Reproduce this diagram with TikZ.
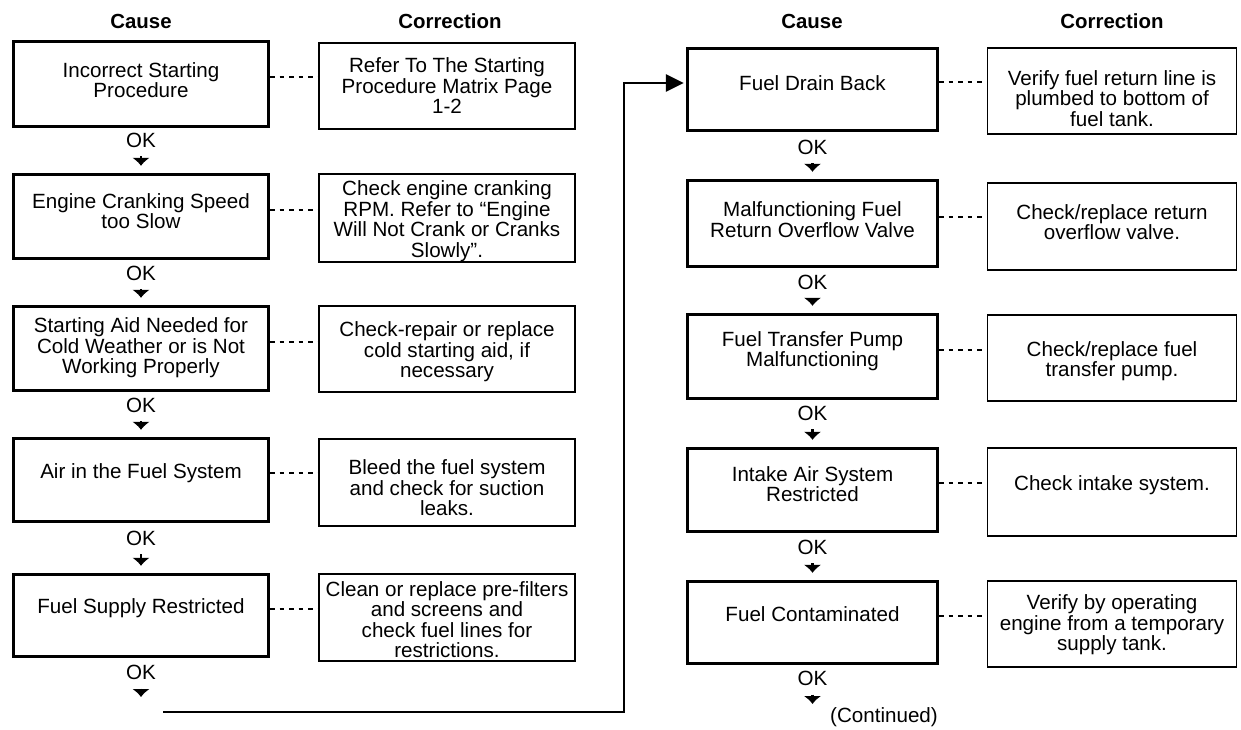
\documentclass[tikz,border=0pt]{standalone}
\usepackage{fontspec}
\setmainfont{Liberation Sans}
\usetikzlibrary{arrows.meta}
\begin{document}
\begin{tikzpicture}[x=1pt,y=-1pt,
  font=\fontsize{20.6}{20.5}\selectfont,
  cause/.style={draw, line width=3.4pt, inner sep=0pt, minimum width=255pt},
  causeR/.style={cause, minimum width=250pt},
  corr/.style={draw, line width=1.9pt, inner sep=0pt, minimum width=256pt},
  corrR/.style={corr, minimum width=249pt},
  txt/.style={align=center, inner sep=0pt},
  hdr/.style={inner sep=0pt, font=\fontsize{20.4}{20}\selectfont\bfseries},
  oklbl/.style={inner sep=0pt},
  dotline/.style={line width=2pt, dash pattern=on 4.5pt off 5pt},
  okarrow/.style={line width=2.4pt, -{Latex[length=8pt,width=18pt]}, shorten <=9pt, shorten >=7pt},
  mainline/.style={line width=2.6pt, -{Triangle[length=18pt,width=17pt]}, shorten >=2pt}
]
\useasboundingbox (0,0) rectangle (1241,730);

% headers
\node[hdr] (h1) at (141,21) {Cause};
\node[hdr] (h2) at (450,21) {Correction};
\node[hdr] (h3) at (812,21) {Cause};
\node[hdr] (h4) at (1112,21) {Correction};

% left cause boxes
\node[cause, minimum height=85pt] (L1) at (141,84) {};
\node[cause, minimum height=84pt] (L2) at (141,216.5) {};
\node[cause, minimum height=84pt] (L3) at (141,348.5) {};
\node[cause, minimum height=83pt] (L4) at (141,480) {};
\node[cause, minimum height=82pt] (L5) at (141,615.5) {};
\node[txt] (L1t) at (141,80) {Incorrect Starting\\Procedure};
\node[txt] (L2t) at (141,211) {Engine Cranking Speed\\too Slow};
\node[txt] (L3t) at (141,348) {Starting Aid Needed for\\Cold Weather or is Not\\Working Properly};
\node[txt] (L4t) at (141,473) {Air in the Fuel System};
\node[txt] (L5t) at (141,608) {Fuel Supply Restricted};

% left correction boxes
\node[corr, minimum height=86pt] (C1) at (447,86) {};
\node[corr, minimum height=88pt] (C2) at (447,218) {};
\node[corr, minimum height=86pt] (C3) at (447,349) {};
\node[corr, minimum height=87pt] (C4) at (447,482.5) {};
\node[corr, minimum height=87pt] (C5) at (447,617.5) {};
\node[txt] (C1t) at (447,86) {Refer To The Starting\\Procedure Matrix Page\\1-2};
\node[txt] (C2t) at (447,221) {Check engine cranking\\RPM. Refer to ``Engine\\Will Not Crank or Cranks\\Slowly''.};
\node[txt] (C3t) at (447,352) {Check-repair or replace\\cold starting aid, if\\necessary};
\node[txt] (C4t) at (447,488) {Bleed the fuel system\\and check for suction\\leaks.};
\node[txt] (C5t) at (447,619.5) {Clean or replace pre-filters\\and screens and\\check fuel lines for\\restrictions.};

% right cause boxes
\node[causeR, minimum height=82pt] (R1) at (812.5,89.5) {};
\node[causeR, minimum height=86pt] (R2) at (812.5,223.5) {};
\node[causeR, minimum height=84pt] (R3) at (812.5,356.5) {};
\node[causeR, minimum height=83pt] (R4) at (812.5,490) {};
\node[causeR, minimum height=82pt] (R5) at (812.5,622.5) {};
\node[txt] (R1t) at (812.5,83) {Fuel Drain Back};
\node[txt] (R2t) at (812.5,219.5) {Malfunctioning Fuel\\Return Overflow Valve};
\node[txt] (R3t) at (812.5,351) {Fuel Transfer Pump\\Malfunctioning};
\node[txt] (R4t) at (812.5,484) {Intake Air System\\Restricted};
\node[txt] (R5t) at (812.5,614) {Fuel Contaminated};

% right correction boxes
\node[corrR, minimum height=86pt] (D1) at (1112,91) {};
\node[corrR, minimum height=87pt] (D2) at (1112,226.5) {};
\node[corrR, minimum height=86pt] (D3) at (1112,358) {};
\node[corrR, minimum height=88pt] (D4) at (1112,492) {};
\node[corrR, minimum height=86pt] (D5) at (1112,624) {};
\node[txt] (D1t) at (1112,98.5) {Verify fuel return line is\\plumbed to bottom of\\fuel tank.};
\node[txt] (D2t) at (1112,222) {Check/replace return\\overflow valve.};
\node[txt] (D3t) at (1112,361) {Check/replace fuel\\transfer pump.};
\node[txt] (D4t) at (1112,485) {Check intake system.};
\node[txt] (D5t) at (1112,625) {Verify by operating\\engine from a temporary\\supply tank.};

% dotted connectors
\foreach \a/\b in {L1/C1,L2/C2,L3/C3,L4/C4,L5/C5,R1/D1,R2/D2,R3/D3,R4/D4,R5/D5}
  \draw[dotline] ([yshift=7pt]\a.east) -- ([yshift=7pt]\a.east -| \b.west);

% OK labels
\node[oklbl] (okL1) at (141,140) {OK};
\node[oklbl] (okL2) at (141,273) {OK};
\node[oklbl] (okL3) at (141,405) {OK};
\node[oklbl] (okL4) at (141,538) {OK};
\node[oklbl] (okL5) at (141,672) {OK};
\node[oklbl] (okR1) at (812.5,147) {OK};
\node[oklbl] (okR2) at (812.5,282) {OK};
\node[oklbl] (okR3) at (812.5,413) {OK};
\node[oklbl] (okR4) at (812.5,547) {OK};
\node[oklbl] (okR5) at (812.5,678) {OK};

\coordinate (endL) at (141,704);
\coordinate (endR) at (812.5,711);

% OK arrows
\draw[okarrow] (okL1.south) -- (L2.north);
\draw[okarrow] (okL2.south) -- (L3.north);
\draw[okarrow] (okL3.south) -- (L4.north);
\draw[okarrow] (okL4.south) -- (L5.north);
\draw[okarrow] (okL5.south) -- (endL);
\draw[okarrow] (okR1.south) -- (R2.north);
\draw[okarrow] (okR2.south) -- (R3.north);
\draw[okarrow] (okR3.south) -- (R4.north);
\draw[okarrow] (okR4.south) -- (R5.north);
\draw[okarrow] (okR5.south) -- (endR);

% long connector
\coordinate (lstart) at (163,712);
\coordinate (lcorner) at (624,712);
\draw[mainline] (lstart) -- (lcorner) |- ([yshift=6.5pt]R1.west);

\node[inner sep=0pt] (cont) at (884,717) {(Continued)};
\end{tikzpicture}
\end{document}
